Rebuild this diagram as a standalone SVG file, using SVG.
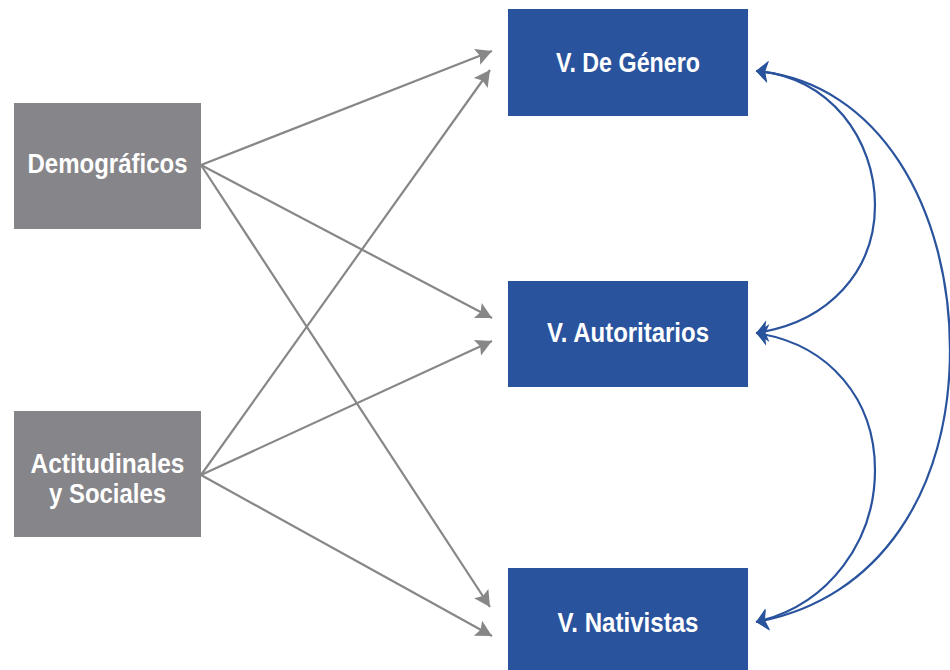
<svg xmlns="http://www.w3.org/2000/svg" width="950" height="670" viewBox="0 0 950 670">
<style>
.g{fill:#868589}
.b{fill:#2a539e}
.t{fill:#fff;font-family:"Liberation Sans Narrow","Liberation Sans",Arial,sans-serif;font-weight:bold;font-size:27px;text-anchor:middle}
.gl{stroke:#878787;stroke-width:2.2;fill:none;marker-end:url(#ga)}
.bl{stroke:#2a539e;stroke-width:2.2;fill:none;marker-start:url(#ba);marker-end:url(#ba)}
</style>
<defs>
<marker id="ga" refX="0" refY="0" markerWidth="10" markerHeight="10" markerUnits="userSpaceOnUse" orient="auto" overflow="visible">
<path d="M0,0 L-16,-8.5 L-13,0 L-16,8.5 Z" fill="#878787"/>
</marker>
<marker id="ba" refX="0" refY="0" markerWidth="10" markerHeight="10" markerUnits="userSpaceOnUse" orient="auto-start-reverse" overflow="visible">
<path d="M0,0 L-12,-11 L-9,0 L-12,11 Z" fill="#2a539e"/>
</marker>
</defs>
<g id="demograficos">
<rect class="g" x="14" y="103" width="187" height="126"/>
<text class="t" x="107.5" y="173" textLength="160" lengthAdjust="spacingAndGlyphs">Demográficos</text>
</g>
<g id="actitudinales">
<rect class="g" x="14" y="411" width="187" height="126"/>
<text class="t" x="107.5" y="473" textLength="154" lengthAdjust="spacingAndGlyphs">Actitudinales</text>
<text class="t" x="107.5" y="503" textLength="117" lengthAdjust="spacingAndGlyphs">y Sociales</text>
</g>
<g id="genero">
<rect class="b" x="508" y="9" width="240" height="107"/>
<text class="t" x="628" y="72" textLength="144" lengthAdjust="spacingAndGlyphs">V. De Género</text>
</g>
<g id="autoritarios">
<rect class="b" x="508" y="281" width="240" height="106"/>
<text class="t" x="628" y="342" textLength="162" lengthAdjust="spacingAndGlyphs">V. Autoritarios</text>
</g>
<g id="nativistas">
<rect class="b" x="508" y="568" width="240" height="102"/>
<text class="t" x="628" y="632" textLength="141" lengthAdjust="spacingAndGlyphs">V. Nativistas</text>
</g>
<g id="connectors">
<line class="gl" x1="201" y1="165" x2="492" y2="51"/>
<line class="gl" x1="201" y1="165" x2="492" y2="318"/>
<line class="gl" x1="201" y1="165" x2="490" y2="607"/>
<line class="gl" x1="201" y1="475" x2="490" y2="70"/>
<line class="gl" x1="201" y1="475" x2="492" y2="341"/>
<line class="gl" x1="201" y1="475" x2="492" y2="636"/>
<path class="bl" d="M756,71 C830,76 875,140 875,205 C875,270 830,322 756,333"/>
<path class="bl" d="M756,333 C830,344 875,400 875,470 C875,540 830,605 756,622"/>
<path class="bl" d="M756,71 C880,82 950,210 950,350 C950,490 880,600 756,622"/>
</g>
</svg>
